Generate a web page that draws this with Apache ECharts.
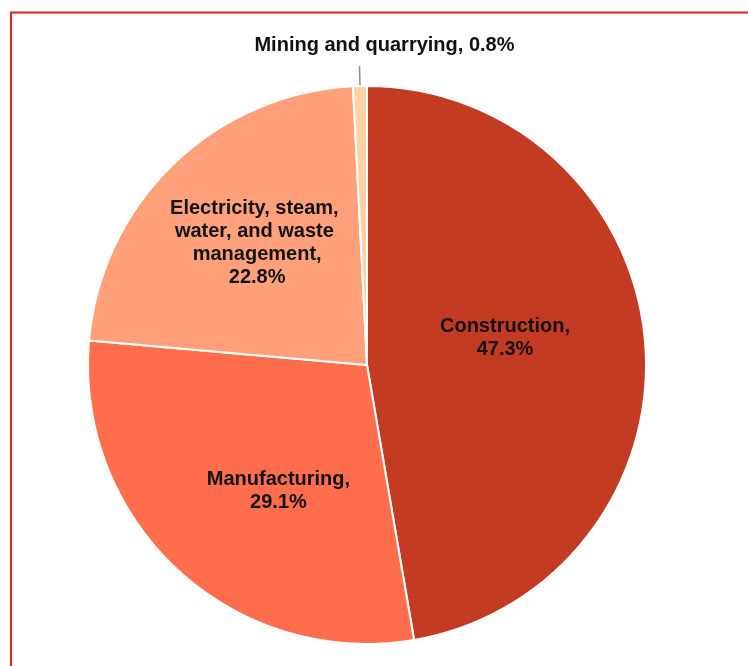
<!DOCTYPE html>
<html>
<head>
<meta charset="utf-8">
<script src="https://cdn.jsdelivr.net/npm/echarts@6/dist/echarts.min.js"></script>
<style>
  html, body { margin: 0; padding: 0; background: #fff; overflow: hidden; }
  #chart { width: 748px; height: 666px; }
</style>
</head>
<body>
<div id="chart"></div>
<script>
// Industry shares (%), drawn clockwise from 12 o'clock
const categories = [
  'Construction',
  'Manufacturing',
  'Electricity, steam, water, and waste management',
  'Mining and quarrying'
];
const shares = [47.3, 29.1, 22.8, 0.8];
const sliceColors = ['#C33B23', '#FE6E4D', '#FFA07A', '#FFD2A6'];

// Per-slice label nudges from the default mid-radius position
const labelOffsets = [[-4, -15], [8, 21], [-11, -19], [160, -21]];

const labelFont = {
  color: '#111',
  fontFamily: '"Liberation Sans", Arial, sans-serif',
  fontWeight: 'bold',
  fontSize: 20,
  lineHeight: 23
};

const data = categories.map((name, i) => {
  const item = {
    name: name,
    value: shares[i],
    itemStyle: { color: sliceColors[i] },
    label: Object.assign({}, labelFont, { offset: labelOffsets[i] })
  };
  if (i === categories.length - 1) {
    // The thin slice gets its label above the pie on a short leader line
    item.label.position = 'outside';
    item.label.formatter = '{b}, {c}%';
    item.label.width = 400;
    item.label.overflow = 'none';
    item.labelLine = { show: true, length: 20, length2: 0, lineStyle: { color: '#8c8c8c', width: 1.5 } };
  }
  return item;
});

const chart = echarts.init(document.getElementById('chart'), null, { renderer: 'canvas' });
chart.setOption({
  animation: false,
  backgroundColor: '#fff',
  graphic: [{
    type: 'rect',
    shape: { x: 11, y: 12.5, width: 900, height: 800 },
    style: { fill: 'none', stroke: '#D91E1E', lineWidth: 2 },
    silent: true
  }],
  series: [{
    type: 'pie',
    center: [367, 365],
    radius: 279,
    startAngle: 90,
    clockwise: true,
    avoidLabelOverlap: false,
    itemStyle: { borderColor: '#fff', borderWidth: 2 },
    label: {
      show: true,
      position: 'inside',
      formatter: '{b},\n{c}%',
      width: 178,
      overflow: 'break',
      align: 'center'
    },
    labelLine: { show: false },
    emphasis: { disabled: true },
    data: data
  }]
});
</script>
</body>
</html>
